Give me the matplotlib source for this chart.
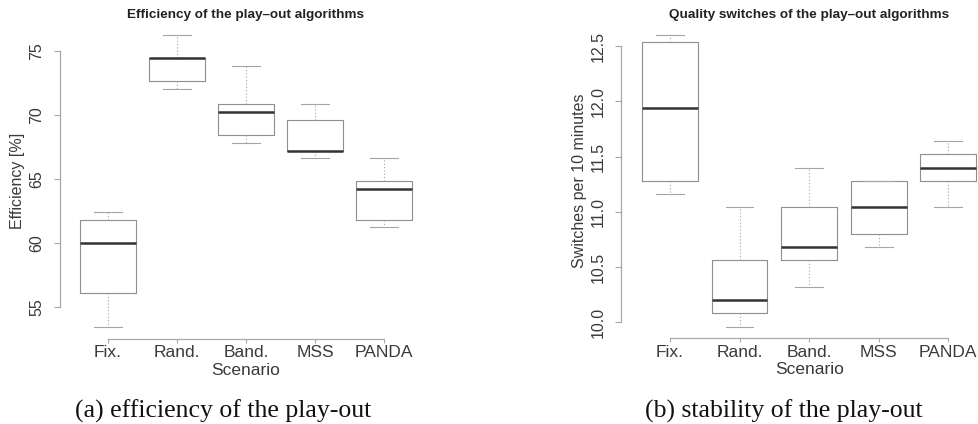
import matplotlib
matplotlib.use('Agg')
import matplotlib.pyplot as plt

# scenarios on the x axis
scenarios = ['Fix.', 'Rand.', 'Band.', 'MSS', 'PANDA']

# (a) efficiency [%]
eff_whislo = [53.4, 72.0, 67.8, 66.6, 61.2]
eff_q1 = [56.1, 72.6, 68.4, 67.2, 61.8]
eff_med = [60.0, 74.4, 70.2, 67.2, 64.2]
eff_q3 = [61.8, 74.4, 70.8, 69.6, 64.8]
eff_whishi = [62.4, 76.2, 73.8, 70.8, 66.6]
eff_ticks = [55, 60, 65, 70, 75]

# (b) switches per 10 minutes
sw_whislo = [11.16, 9.96, 10.32, 10.68, 11.04]
sw_q1 = [11.28, 10.08, 10.56, 10.80, 11.28]
sw_med = [11.94, 10.20, 10.68, 11.04, 11.40]
sw_q3 = [12.54, 10.56, 11.04, 11.28, 11.52]
sw_whishi = [12.60, 11.04, 11.40, 11.28, 11.64]
sw_ticks = [10.0, 10.5, 11.0, 11.5, 12.0, 12.5]

plt.rcParams['font.family'] = ['Liberation Sans', 'DejaVu Sans']
TXT = '#3a3a3a'


def RBoxplot(ax, whislo, q1, med, q3, whishi, ticks, ticklabels, ylabel, title):
    stats = []
    for i in range(len(scenarios)):
        stats.append(dict(whislo=whislo[i], q1=q1[i], med=med[i], q3=q3[i], whishi=whishi[i]))
    pos = list(range(1, len(scenarios) + 1))
    ax.bxp(stats, positions=pos, widths=0.8, capwidths=0.4, showfliers=False, manage_ticks=False,
           boxprops=dict(color='#8f8f8f', linewidth=0.8),
           medianprops=dict(color='#333333', linewidth=1.8),
           whiskerprops=dict(color='#a5a5a5', linewidth=0.8, linestyle=(0, (1, 2))),
           capprops=dict(color='#a5a5a5', linewidth=0.8))

    # R style ranges: 4% extension
    lo, hi = min(whislo), max(whishi)
    ax.set_ylim(lo - 0.04 * (hi - lo), hi + 0.04 * (hi - lo))
    ax.set_xlim(0.3, len(scenarios) + 0.7)

    for s in ['top', 'right']:
        ax.spines[s].set_visible(False)
    for s in ['left', 'bottom']:
        ax.spines[s].set_color('#a8a8a8')
        ax.spines[s].set_linewidth(0.9)
    ax.spines['bottom'].set_bounds(pos[0], pos[-1])
    ax.spines['left'].set_bounds(ticks[0], ticks[-1])

    ax.set_xticks(pos)
    ax.set_xticklabels(scenarios, fontsize=12.5, color=TXT)
    ax.set_yticks(ticks)
    ax.set_yticklabels(ticklabels, fontsize=11.5, color=TXT, rotation=90, va='center')
    ax.tick_params(axis='x', length=3, width=0.8, color='#a8a8a8', pad=1.5)
    ax.tick_params(axis='y', length=4, width=0.8, color='#a8a8a8', pad=7)

    ax.set_xlabel('Scenario', fontsize=12.5, color=TXT, va='center')
    ax.xaxis.set_label_coords(0.5, -0.1)
    ax.set_ylabel(ylabel, fontsize=11.5, color=TXT, va='center')
    ax.yaxis.set_label_coords(-0.112, 0.5)
    ax.text(0.5, 1.027, title, transform=ax.transAxes, ha='center', va='center',
            fontsize=9.7, fontweight='bold', color='#222222')


fig = plt.figure(figsize=(9.79, 4.24), dpi=100)
ax1 = fig.add_axes([59.7 / 979, 85.0 / 424, 372.6 / 979, 315.4 / 424])
ax2 = fig.add_axes([621.3 / 979, 85.6 / 424, 375.7 / 979, 315.1 / 424])

RBoxplot(ax1, eff_whislo, eff_q1, eff_med, eff_q3, eff_whishi,
         eff_ticks, [str(t) for t in eff_ticks], 'Efficiency [%]',
         'Efficiency of the play\u2013out algorithms')
RBoxplot(ax2, sw_whislo, sw_q1, sw_med, sw_q3, sw_whishi,
         sw_ticks, ['%.1f' % t for t in sw_ticks], 'Switches per 10 minutes',
         'Quality switches of the play\u2013out algorithms')

fig.text(223.5 / 979, 1 - 411.0 / 424, '(a) efficiency of the play-out', ha='center', va='center',
         fontsize=18.5, family='Liberation Serif', color='#111111')
fig.text(784.0 / 979, 1 - 411.0 / 424, '(b) stability of the play-out', ha='center', va='center',
         fontsize=18.5, family='Liberation Serif', color='#111111')

plt.savefig('out.png', dpi=100)
plt.close()
